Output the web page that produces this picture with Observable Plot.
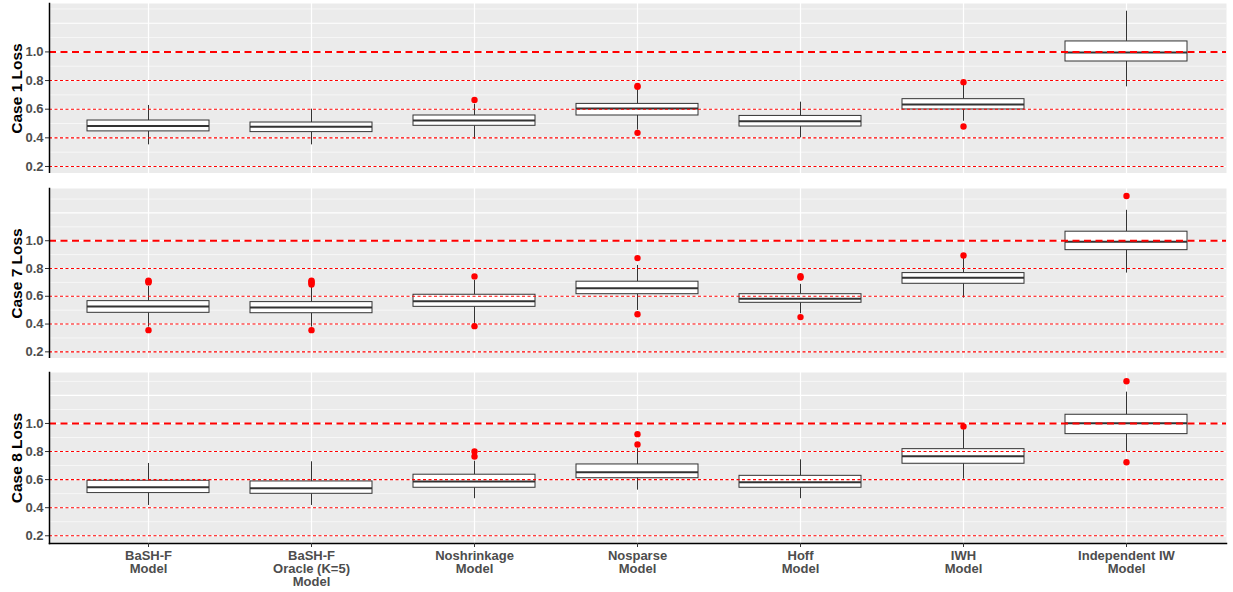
<!DOCTYPE html>
<html><head><meta charset="utf-8">
<script src="https://cdn.jsdelivr.net/npm/d3@7"></script>
<script src="https://cdn.jsdelivr.net/npm/@observablehq/plot@0.6"></script>
<style>
body{margin:0;background:#fff;font-family:"Liberation Sans",Arial,sans-serif;}
#chart svg{display:block;}
</style></head><body><div id="chart"></div>
<script>
// ---- categories & labels ----
const models = ["BaSH-F","BaSH-F Oracle (K=5)","Noshrinkage","Nosparse","Hoff","IWH","Independent IW"];
const tickLabels = ["BaSH-F\nModel","BaSH-F\nOracle (K=5)\nModel","Noshrinkage\nModel","Nosparse\nModel","Hoff\nModel","IWH\nModel","Independent IW\nModel"];
const caseTitles = ["Case 1 Loss","Case 7 Loss","Case 8 Loss"];
const yTicks = [0.2,0.4,0.6,0.8,1.0];
const refDashed = [1.0];
const refDotted = [0.2,0.4,0.6,0.8];
const gridMajor = [0.2,0.4,0.6,0.8,1.0,1.2];
const gridMinor = [0.3,0.5,0.7,0.9,1.1,1.3];

// ---- Case 1 ----
const c1Domain = [0.151,1.338];
const c1Lo  = [0.351,0.351,0.389,0.454,0.400,0.516,0.756];
const c1Q1  = [0.445,0.440,0.484,0.556,0.479,0.598,0.933];
const c1Med = [0.482,0.477,0.521,0.605,0.516,0.633,0.996];
const c1Q3  = [0.521,0.507,0.556,0.637,0.553,0.670,1.073];
const c1Hi  = [0.626,0.600,0.635,0.733,0.649,0.768,1.284];
const c1OutModel = ["Noshrinkage","Nosparse","Nosparse","Nosparse","IWH","IWH"];
const c1OutValue = [0.665,0.756,0.762,0.435,0.789,0.479];

// ---- Case 7 ----
const c7Domain = [0.152,1.376];
const c7Lo  = [0.378,0.378,0.405,0.498,0.474,0.587,0.767];
const c7Q1  = [0.481,0.478,0.524,0.615,0.553,0.690,0.932];
const c7Med = [0.527,0.519,0.565,0.658,0.582,0.733,0.993];
const c7Q3  = [0.565,0.558,0.611,0.705,0.615,0.767,1.065];
const c7Hi  = [0.671,0.668,0.715,0.822,0.686,0.875,1.219];
const c7OutModel = ["BaSH-F","BaSH-F","BaSH-F","BaSH-F","BaSH-F Oracle (K=5)","BaSH-F Oracle (K=5)","BaSH-F Oracle (K=5)","BaSH-F Oracle (K=5)","BaSH-F Oracle (K=5)","Noshrinkage","Noshrinkage","Nosparse","Nosparse","Hoff","Hoff","Hoff","IWH","Independent IW"];
const c7OutValue = [0.700,0.707,0.713,0.356,0.685,0.695,0.705,0.712,0.356,0.743,0.385,0.875,0.471,0.745,0.735,0.450,0.894,1.322];

// ---- Case 8 ----
const c8Domain = [0.145,1.363];
const c8Lo  = [0.416,0.416,0.464,0.525,0.464,0.603,0.796];
const c8Q1  = [0.504,0.499,0.542,0.610,0.542,0.713,0.924];
const c8Med = [0.546,0.539,0.587,0.653,0.582,0.767,1.002];
const c8Q3  = [0.592,0.587,0.635,0.708,0.627,0.817,1.062];
const c8Hi  = [0.715,0.727,0.731,0.820,0.741,0.955,1.223];
const c8OutModel = ["Noshrinkage","Noshrinkage","Nosparse","Nosparse","IWH","Independent IW","Independent IW"];
const c8OutValue = [0.800,0.765,0.924,0.850,0.979,1.301,0.724];

const panels = [
  {title: caseTitles[0], domain: c1Domain, lo: c1Lo, q1: c1Q1, med: c1Med, q3: c1Q3, hi: c1Hi, om: c1OutModel, ov: c1OutValue},
  {title: caseTitles[1], domain: c7Domain, lo: c7Lo, q1: c7Q1, med: c7Med, q3: c7Q3, hi: c7Hi, om: c7OutModel, ov: c7OutValue},
  {title: caseTitles[2], domain: c8Domain, lo: c8Lo, q1: c8Q1, med: c8Med, q3: c8Q3, hi: c8Hi, om: c8OutModel, ov: c8OutValue}
];
const layout = [
  {height: 173, marginTop: 3, marginBottom: 0},
  {height: 185, marginTop: 15, marginBottom: 0},
  {height: 234, marginTop: 14, marginBottom: 49}
];

const chart = document.getElementById("chart");
panels.forEach((p, k) => {
  const boxes = models.map((m, i) => ({model: m, lo: p.lo[i], q1: p.q1[i], med: p.med[i], q3: p.q3[i], hi: p.hi[i]}));
  const outs = p.om.map((m, i) => ({model: m, value: p.ov[i]}));
  const last = k === panels.length - 1;
  const marks = [
    Plot.frame({fill: "#EBEBEB", stroke: null}),
    Plot.ruleY(gridMinor, {stroke: "white", strokeWidth: 0.6}),
    Plot.ruleY(gridMajor, {stroke: "white", strokeWidth: 1.2}),
    Plot.ruleX(models, {x: d => d, stroke: "white", strokeWidth: 1.2}),
    Plot.ruleX(boxes, {x: "model", y1: "lo", y2: "q1", stroke: "#333", strokeWidth: 1}),
    Plot.ruleX(boxes, {x: "model", y1: "q3", y2: "hi", stroke: "#333", strokeWidth: 1}),
    Plot.barY(boxes, {x: "model", y1: "q1", y2: "q3", fill: "white", stroke: "#333", strokeWidth: 1}),
    Plot.tickY(boxes, {x: "model", y: "med", stroke: "#333", strokeWidth: 2}),
    Plot.dot(outs, {x: "model", y: "value", r: 3.2, fill: "red", stroke: null}),
    Plot.ruleY(refDotted, {stroke: "red", strokeWidth: 1.1, strokeDasharray: "3,2.5"}),
    Plot.ruleY(refDashed, {stroke: "red", strokeWidth: 2, strokeDasharray: "7,4.5"}),
    Plot.axisY({ticks: yTicks, tickFormat: d3.format(".1f"), tickSize: 4, tickPadding: 2, fontSize: 13, fontWeight: "bold", fill: "#4D4D4D", stroke: "#333", label: null}),
    Plot.text([p.title], {text: d => d, frameAnchor: "left", dx: -32, rotate: -90, fontSize: 15.5, fontWeight: "bold", fill: "black", textAnchor: "middle", lineAnchor: "middle"}),
    Plot.frame({anchor: "left", stroke: "black", strokeWidth: 1.5})
  ];
  if (last) {
    marks.push(Plot.frame({anchor: "bottom", stroke: "black", strokeWidth: 1.5}));
    marks.push(Plot.axisX({tickFormat: d => tickLabels[models.indexOf(d)], tickSize: 4, tickPadding: 3, fontSize: 13, fontWeight: "bold", fill: "#4D4D4D", stroke: "#333", label: null}));
  }
  const svg = Plot.plot({
    width: 1233,
    height: layout[k].height,
    marginTop: layout[k].marginTop,
    marginBottom: layout[k].marginBottom,
    marginLeft: 49,
    marginRight: 7,
    style: {fontFamily: "'Liberation Sans', Arial, sans-serif", background: "white"},
    x: {type: "band", domain: models, paddingInner: 0.25, paddingOuter: 0.225, axis: null},
    y: {domain: p.domain, axis: null},
    marks
  });
  chart.appendChild(svg);
});
</script>
</body></html>
